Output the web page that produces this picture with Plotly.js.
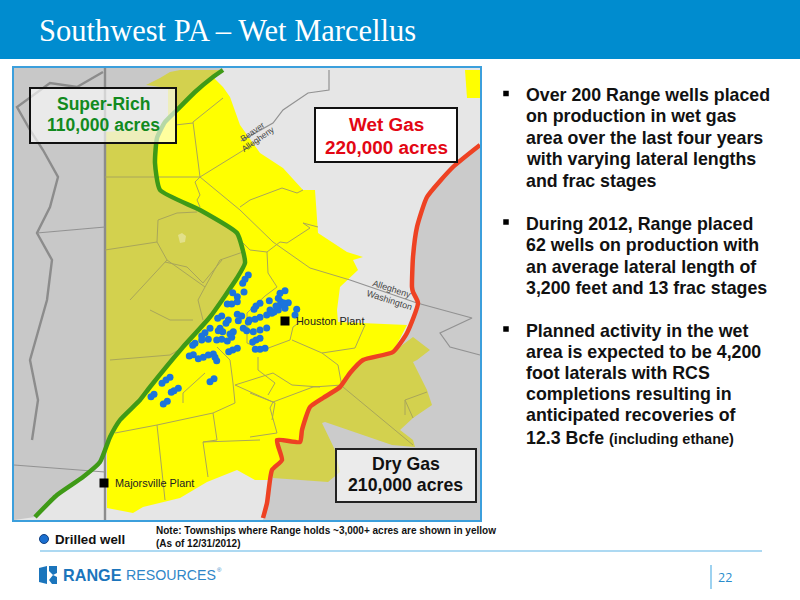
<!DOCTYPE html>
<html><head><meta charset="utf-8">
<script src="https://cdn.plot.ly/plotly-3.0.1.min.js"></script>
<style>html,body{margin:0;padding:0;background:#fff}#c{width:800px;height:600px}</style>
</head><body><div id="c"></div>
<script>
// Region outlines (page units: x 0-800, y 0-600)
var greenX=[223,213,195,177,165,157,155,160,200,237,242,245,237,210,183,150,140,120,110,100,83,57,35];
var greenY=[70,77,92,110,122,138,163,190,210,233,247,263,278,317,347,387,400,420,437,462,477,495,517];
var redX=[480,453,427,417,413,412,413,418,407,393,363,350,340,323,310,302,300,277,282,272,267,263];
var redY=[145,167,197,227,257,287,292,303,333,352,360,373,387,398,407,430,442,440,460,470,503,518];

var westGrayX=[14,223,213,195,177,165,157,155,160,200,237,242,245,237,210,183,150,140,120,110,100,83,57,35,14];
var westGrayY=[68,68,77,92,110,122,138,163,190,210,233,247,263,278,317,347,387,400,420,437,462,477,495,517,520];
var eastGrayX=[480,453,427,417,413,412,413,418,407,393,363,350,340,323,310,302,300,277,282,272,267,263,480];
var eastGrayY=[145,167,197,227,257,287,292,303,333,352,360,373,387,398,407,430,442,440,460,470,503,520,520];

var oliveWestX=[105,168,168,146,160,170,180,223,213,195,177,165,157,155,160,200,237,242,245,237,210,183,150,140,120,110,105];
var oliveWestY=[132,128,88,85,78,72,70,70,77,92,110,122,138,163,190,210,233,247,263,278,317,347,387,400,420,437,460];
var oliveEastX=[300,310,323,340,350,363,393,413,430,417,413,427,432,413,400,413,415,392,325,322,335,340,328,273,272,282,277];
var oliveEastY=[442,407,398,387,373,360,352,337,350,360,362,390,405,418,430,440,447,445,422,423,450,472,482,478,470,460,440];

var yellowX=[213,223,230,240,260,283,303,315,318,347,363,353,358,340,337,338,407,393,363,350,340,323,310,302,300,277,282,272,270,255,237,207,180,143,133,107,107,110,120,140,150,183,210,237,245,242,237,200,160,155,157,165,177,195];
var yellowY=[77,87,97,125,153,168,190,190,233,252,257,260,270,287,310,322,325,352,360,373,387,398,407,430,442,440,460,470,480,480,470,482,498,507,513,508,450,437,420,400,387,347,317,278,263,247,233,210,190,163,138,122,110,92];
var cornerX=[465,480,480,467];
var cornerY=[70,70,98,98];

// Township and county boundaries
var townshipLines=[
 [[193,223],[122,98]],[[193,200],[122,177]],[[175,193],[125,123]],[[105,200],[177,177]],[[200,260],[177,140]],
 [[200,195,200,197,200],[177,182,195,200,207]],[[200,240,273,310,350],[177,210,242,268,280]],
 [[240,250,282,297,303],[207,200,188,193,190]],[[318,303,310,287,280,267,250,240],[227,223,228,243,242,252,250,240]],
 [[267,268,277,265,247],[252,273,287,296,313]],[[247,247,263,290,293,300],[313,343,350,340,327,322]],
 [[105,157,158,177,197],[250,242,220,213,212]],[[157,167,130],[242,260,300]],[[167,185,205,220,243],[260,273,287,260,252]],
 [[205,198,203],[287,300,320]],[[150,170,193],[310,320,320]],[[110,150,170,190],[360,357,355,343]],
 [[165,187,203,222],[262,267,283,260]],[[217,230,233,235,213,157,115],[347,360,383,403,413,425,433]],
 [[205,183,183],[373,393,403]],[[235,275,272],[385,403,420]],[[235,273,292,320],[385,373,385,387]],
 [[292,322,355,365],[340,353,348,325]],[[322,338,342],[353,365,387]],[[250,273,313,342],[393,402,387,385]],
 [[273,270,277,250],[402,408,433,437]],[[258,258,275,268],[357,370,383,395]],
 [[157,165],[425,500]],[[213,217,203,208],[413,440,442,477]],[[203,260],[442,440]],
 [[343,398,413],[387,433,445]],[[405,427],[400,392]],[[413,405,405],[418,400,415]]
];
var riverLines=[
 [[105,105],[68,520]],
 [[103,77,50,17,30,43,58,50,37,52,47,30,38,32],[72,87,83,107,130,150,177,207,233,260,300,360,400,440]]
];
var countyLines=[
 [[37,105],[233,227]],[[14,105],[465,472]],
 [[241,273,283,308,329,329],[141,123,110,93,90,70]],
 [[350,417,472,440,450,480],[280,303,318,333,347,355]]
];
var pondX=[178,182,186,185,180,178];
var pondY=[235,233,236,242,243,235];

// Drilled wells
var wellX=[248.3,245,242.7,232.7,244,237.3,237.3,231.7,227.3,285,280,278.3,280.7,269.3,260,256,254,288.3,285,278.3,270,266.7,271.7,281.7,276,274,284,296.7,295,221.7,217.7,237.3,241.7,238.3,228.3,226,260,255,249.3,248.3,210,205,201.7,220,222.7,218.3,233.3,230,243.3,246.7,253.3,260,266.7,208.3,201.7,195,192.7,221.7,216.7,231.7,227.3,260,256,252.7,237.3,232.7,228.7,265,260,255.3,193.3,189.3,213.3,208.3,203.3,198.3,215,216.7,214,210,170,166,162,178.3,174,171.3,154,151,167.3,163.3];
var wellY=[275,279.3,283.3,292.7,292,296.7,301.7,304,304,290.7,293.3,298.3,301.7,300.7,303.3,306,309.3,302.7,308.3,310,310,315,313.3,305,306,312,303,309.3,315,316,318.3,314.3,316,320.7,320,323.3,317.3,319.3,320,322,328.3,332.7,336,328.3,331.7,330.7,331.7,334,328.3,330.7,331.7,330,328,339.3,340,343.3,345.3,339.3,340,337.3,341,338.3,340,342,348.3,350,351.7,348.3,349.3,349.3,354.7,356,354,355,357.3,358.7,357.3,360.7,378.7,381.7,377.3,380,383.3,388.3,390.7,392.3,394.3,396.7,401.3,404];

// Text
var bodyLines=["Over 200 Range wells placed","on production in wet gas","area over the last four years","with varying lateral lengths","and frac stages","During 2012, Range placed","62 wells on production with","an average lateral length of","3,200 feet and 13 frac stages","Planned activity in the wet","area is expected to be 4,200","foot laterals with RCS","completions resulting in","anticipated recoveries of","12.3 Bcfe <span style=\"font-size:14.5px\">(including ethane)</span>"];
var bodyY=[95,116,138,159,180.5,224,245,266.5,288,331,352,373,394,415,438];
var bulletX=[506,506,506];
var bulletY=[93.5,222,329];
var plantX=[285,104];
var plantY=[321,483];
var plantNames=["Houston Plant","Majorsville Plant"];
var legendDotX=[44];
var legendDotY=[539];
var logoLeftX=[39,47,47,39];
var logoLeftY=[568,566,584,582];
var logoRightX=[49,57,57,53,57,57,52,49,53,49];
var logoRightY=[566,566,573,575,577,584,584,580,575,571];

var traces=[];
function poly(x,y,color){traces.push({type:'scatter',mode:'lines',x:x,y:y,fill:'toself',fillcolor:color,line:{width:0,color:color},hoverinfo:'skip',showlegend:false});}
function line(x,y,color,w){traces.push({type:'scatter',mode:'lines',x:x,y:y,line:{color:color,width:w,shape:'spline',smoothing:0.5},hoverinfo:'skip',showlegend:false});}
function straight(x,y,color,w){traces.push({type:'scatter',mode:'lines',x:x,y:y,line:{color:color,width:w},hoverinfo:'skip',showlegend:false});}

poly(westGrayX,westGrayY,'#c8c8c8');
poly(eastGrayX,eastGrayY,'#cbcbcb');
poly(oliveWestX,oliveWestY,'#d3d14e');
poly(oliveEastX,oliveEastY,'#d3d14e');
poly(yellowX,yellowY,'#ffff00');
poly(cornerX,cornerY,'#ffff00');
poly(pondX,pondY,'#e2e08a');
riverLines.forEach(function(l){straight(l[0],l[1],'#8c8c8c',2.4);});
countyLines.forEach(function(l){straight(l[0],l[1],'#929292',1.2);});
townshipLines.forEach(function(l){straight(l[0],l[1],'#a9a65a',1);});
line(greenX,greenY,'#3f9a17',4.5);
line(redX,redY,'#ee4223',4.5);
traces.push({type:'scatter',mode:'markers',x:wellX,y:wellY,marker:{color:'#1c74dc',size:7,line:{width:0}},hoverinfo:'skip',showlegend:false});
traces.push({type:'scatter',mode:'markers',x:plantX,y:plantY,marker:{color:'#000',size:9,symbol:'square',line:{width:0}},hoverinfo:'skip',showlegend:false});
traces.push({type:'scatter',mode:'markers',x:bulletX,y:bulletY,marker:{color:'#000',size:5.5,symbol:'square',line:{width:0}},hoverinfo:'skip',showlegend:false});
traces.push({type:'scatter',mode:'markers',x:legendDotX,y:legendDotY,marker:{color:'#1a6fd0',size:9,line:{width:1,color:'#123f80'}},hoverinfo:'skip',showlegend:false});
poly(logoLeftX,logoLeftY,'#1b75bc');
poly(logoRightX,logoRightY,'#1b75bc');

var SANS='"Liberation Sans",Arial,sans-serif';
function note(text,x,y,size,color,anchor,extra){
  var a={text:text,x:x,y:y,xref:'x',yref:'y',showarrow:false,xanchor:anchor||'left',yanchor:'middle',align:anchor||'left',font:{family:SANS,size:size,color:color||'#000'}};
  if(extra){for(var k in extra){a[k]=extra[k];}}
  return a;
}
var annotations=[];
annotations.push(note('Southwest PA – Wet Marcellus',37,31,30.5,'#fff','left',{font:{family:'"Liberation Serif",serif',size:30.5,color:'#fff'}}));
bodyLines.forEach(function(t,i){annotations.push(note('<b>'+t+'</b>',524,bodyY[i],17.8,'#111'));});
annotations.push(note('<b>Super-Rich</b>',103,104,17.5,'#128a1e','center'));
annotations.push(note('<b>110,000 acres</b>',103,125,17.5,'#128a1e','center'));
annotations.push(note('<b>Wet Gas</b>',386,124,18.9,'#e30613','center'));
annotations.push(note('<b>220,000 acres</b>',386,147,18.9,'#e30613','center'));
annotations.push(note('<b>Dry Gas</b>',405.5,464,17.7,'#111','center'));
annotations.push(note('<b>210,000 acres</b>',405.5,485,17.7,'#111','center'));
annotations.push(note(plantNames[0],294,321,10.9,'#222'));
annotations.push(note(plantNames[1],113,483,10.9,'#222'));
annotations.push(note('Beaver',252,132,8.5,'#444','center',{textangle:-35}));
annotations.push(note('Allegheny',258,139,8.5,'#444','center',{textangle:-35}));
annotations.push(note('Allegheny',392,288.5,9,'#444','center',{textangle:18}));
annotations.push(note('Washington',389,299.5,9,'#444','center',{textangle:18}));
annotations.push(note('<b>Drilled well</b>',52.5,539,13.3,'#111'));
annotations.push(note('<b>Note: Townships where Range holds ~3,000+ acres are shown in yellow</b>',154,530.5,10,'#111'));
annotations.push(note('<b>(As of 12/31/2012)</b>',154,543.5,10,'#111'));
annotations.push(note('<b>RANGE</b>',60.5,575,16.2,'#1b75bc'));
annotations.push(note('RESOURCES',124,575,14.2,'#2f86c8'));
annotations.push(note('®',214.5,570,6,'#2f86c8'));
annotations.push(note('22',725,577,13,'#2a8ccc','center',{font:{family:'"Open Sans",sans-serif',size:12.5,color:'#2a8ccc'}}));

function rect(x0,y0,x1,y1,fill,lineColor,w){return {type:'rect',xref:'x',yref:'y',x0:x0,y0:y0,x1:x1,y1:y1,fillcolor:fill,line:{color:lineColor,width:w},layer:'above'};}
var shapes=[
 rect(0,0,800,59,'#008ccf','#008ccf',0),
 rect(13,67,481,521,'rgba(0,0,0,0)','#3c9fdc',2),
 rect(30,88,176,143,'rgba(255,255,255,0.62)','#111',2),
 rect(315,108,457,162,'#ffffff','#111',2),
 rect(336,449,476,502,'rgba(255,255,255,0.62)','#222',2),
 {type:'line',xref:'x',yref:'y',x0:40,y0:551,x1:762,y1:551,line:{color:'#5db4e6',width:1.2}},
 {type:'line',xref:'x',yref:'y',x0:711,y0:565,x1:711,y1:589,line:{color:'#5db4e6',width:1.2}}
];
shapes.unshift({type:'rect',xref:'x',yref:'y',x0:14,y0:68,x1:480,y1:520,fillcolor:'#e6e6e6',line:{width:0},layer:'below'});

Plotly.newPlot('c',traces,{
 width:800,height:600,margin:{l:0,r:0,t:0,b:0,pad:0},paper_bgcolor:'#fff',plot_bgcolor:'#fff',showlegend:false,
 xaxis:{range:[0,800],visible:false,fixedrange:true},
 yaxis:{range:[600,0],visible:false,fixedrange:true},
 shapes:shapes,annotations:annotations
},{staticPlot:true,displayModeBar:false});
</script></body></html>
